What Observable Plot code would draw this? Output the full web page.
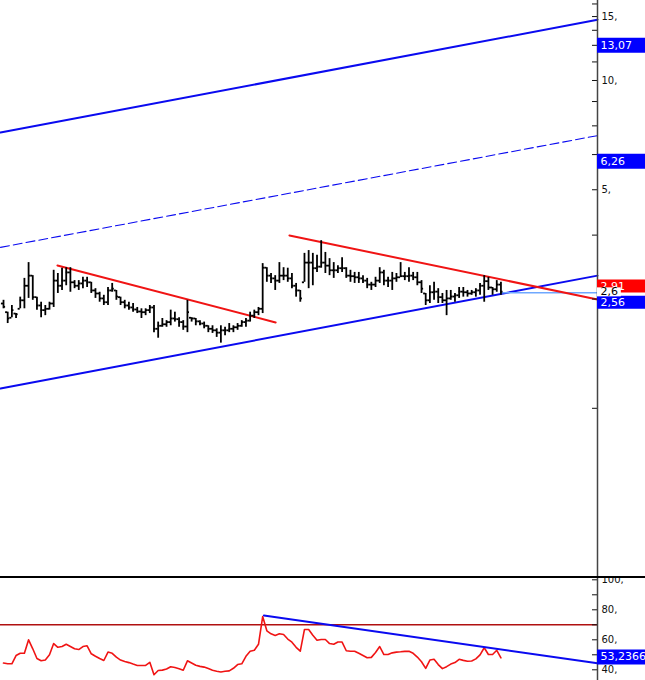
<!DOCTYPE html>
<html>
<head>
<meta charset="utf-8">
<script src="https://cdn.jsdelivr.net/npm/d3@7"></script>
<script src="https://cdn.jsdelivr.net/npm/@observablehq/plot@0.6"></script>
<style>
  body { margin: 0; background: #fff; overflow: hidden; }
  #price { height: 576px; overflow: hidden; }
  #rsi { border-top: 2px solid #000; height: 102px; overflow: hidden; }
  svg { display: block; }
</style>
</head>
<body>
<div id="price"></div>
<div id="rsi"></div>
<script>
// weekly bars, one per index
const high = [
  2.48,2.30,2.40,2.28,2.53,2.85,3.15,2.90,2.53,2.45,
  2.40,2.45,3.00,2.94,3.04,3.05,3.05,2.81,2.81,2.87,
  2.87,2.78,2.67,2.61,2.56,2.69,2.76,2.64,2.53,2.48,
  2.45,2.43,2.37,2.35,2.35,2.40,2.40,2.16,2.21,2.18,
  2.33,2.30,2.22,2.18,2.48,2.22,2.21,2.18,2.16,2.11,
  2.11,2.07,2.11,2.09,2.14,2.11,2.14,2.18,2.21,2.30,
  2.33,2.37,3.13,3.05,2.94,2.90,3.15,3.05,3.04,2.94,
  2.76,2.64,3.34,3.40,3.34,3.30,3.62,3.36,3.23,3.15,
  3.09,3.25,3.05,3.00,2.96,2.96,2.90,2.85,2.78,2.87,
  3.05,3.00,2.87,2.96,2.94,3.15,2.96,3.05,2.96,2.96,
  2.81,2.59,2.72,2.78,2.67,2.59,2.64,2.64,2.59,2.69,
  2.69,2.64,2.64,2.67,2.76,2.90,2.87,2.69,2.81,2.78
];
const low = [
  2.35,2.14,2.22,2.21,2.35,2.35,2.51,2.48,2.33,2.22,
  2.25,2.33,2.37,2.59,2.64,2.72,2.61,2.67,2.64,2.67,
  2.69,2.59,2.51,2.45,2.40,2.40,2.61,2.48,2.40,2.35,
  2.33,2.30,2.28,2.21,2.25,2.28,2.02,1.95,2.09,2.09,
  2.11,2.16,2.09,2.05,2.02,2.16,2.11,2.11,2.07,2.02,
  2.01,1.96,1.89,1.98,2.02,2.02,2.05,2.09,2.09,2.16,
  2.21,2.25,2.28,2.78,2.76,2.64,2.76,2.81,2.78,2.67,
  2.53,2.45,2.78,2.67,2.72,2.96,3.04,2.94,2.90,2.85,
  2.94,2.96,2.85,2.78,2.76,2.76,2.76,2.67,2.64,2.69,
  2.76,2.72,2.69,2.64,2.78,2.87,2.81,2.78,2.81,2.72,
  2.59,2.40,2.43,2.48,2.43,2.43,2.25,2.48,2.45,2.51,
  2.53,2.53,2.56,2.53,2.56,2.45,2.64,2.56,2.61,2.56
];
const open = [
  2.43,2.30,2.22,2.28,2.35,2.48,2.72,2.90,2.53,2.40,
  2.33,2.35,2.43,2.81,2.72,2.81,2.96,2.78,2.72,2.76,
  2.81,2.78,2.64,2.59,2.51,2.45,2.64,2.64,2.53,2.45,
  2.40,2.37,2.34,2.31,2.30,2.33,2.37,2.07,2.11,2.13,
  2.16,2.21,2.20,2.16,2.10,2.22,2.21,2.17,2.14,2.11,
  2.07,2.05,2.02,2.05,2.05,2.07,2.09,2.11,2.16,2.18,
  2.25,2.30,2.35,3.05,2.90,2.85,2.81,2.90,2.90,2.85,
  2.72,2.64,2.78,3.15,3.15,3.04,3.07,3.15,3.09,3.00,
  3.00,3.04,3.04,2.90,2.89,2.87,2.85,2.81,2.74,2.74,
  2.81,2.96,2.81,2.81,2.85,2.87,2.89,2.89,2.90,2.87,
  2.78,2.59,2.48,2.61,2.62,2.53,2.48,2.51,2.54,2.56,
  2.62,2.61,2.59,2.61,2.64,2.72,2.80,2.69,2.66,2.74
];
const close = [
  2.38,2.21,2.33,2.27,2.48,2.72,2.90,2.53,2.40,2.33,
  2.35,2.43,2.81,2.72,2.81,2.96,2.78,2.72,2.76,2.81,
  2.78,2.64,2.59,2.51,2.45,2.64,2.67,2.54,2.45,2.40,
  2.37,2.34,2.31,2.30,2.33,2.37,2.07,2.11,2.13,2.16,
  2.21,2.20,2.16,2.10,2.30,2.21,2.17,2.14,2.11,2.07,
  2.05,2.02,2.05,2.05,2.07,2.09,2.11,2.16,2.18,2.25,
  2.30,2.35,3.05,2.90,2.85,2.81,2.90,2.90,2.85,2.72,
  2.64,2.51,3.15,3.15,3.04,3.07,3.15,3.09,3.00,3.00,
  3.04,3.04,2.90,2.89,2.87,2.85,2.81,2.74,2.74,2.81,
  2.96,2.81,2.81,2.85,2.87,2.89,2.89,2.90,2.87,2.78,
  2.67,2.48,2.61,2.62,2.53,2.48,2.51,2.54,2.56,2.62,
  2.61,2.59,2.61,2.64,2.72,2.80,2.69,2.66,2.74,2.62
];
const rsi = [
  44.5,44,44,49.5,51,51,60,54,47.5,46,
  46.5,50,57.5,55,55.5,57,55.5,54,53.5,55.5,
  56,50.7,49,47.5,46.2,51.8,51,48.4,46.5,45.5,
  44.8,43.8,42.9,42.9,42.9,45,36.7,39.5,39.8,40.5,
  42,41.5,40.7,39.7,46,44.5,43,42.3,41.8,40.8,
  39.7,39,38.5,39,39.3,41,43.5,44,49,52.4,
  53,57,75.5,66,64,62.9,64,63.5,60.5,58.4,
  55,52.4,66.9,66.9,63,59.7,60.2,60.2,57.5,57,
  58.5,58.5,52.7,52.4,52.4,51,49.5,48,48.3,51.5,
  55.5,50.2,50.2,51.3,51.8,52,52.3,52.4,51,48.5,
  45.4,41,46.5,47,43.5,40.8,42.1,43.8,44.8,47,
  46.3,45.7,45.9,47.3,50,54.7,50.2,50.2,53,48
];

// drawn lines: [bar index, value]
const channelTop = [[-0.72, 7.19], [142.1, 14.7]];
const channelMid = [[-0.72, 3.47], [142.1, 7.05]];
const channelLow = [[-0.72, 1.417], [142.1, 2.90]];
const wedgeOne = [[12.9, 3.093], [65.1, 2.155]];
const wedgeTwo = [[68.4, 3.741], [142.1, 2.493]];
const flatLevel = [[119, 2.6], [142.1, 2.6]];
const rsiLevel = [70];
const rsiTrend = [[62.3, 76.2], [142.1, 44.3]];

const priceTicks = [1.25, 2.5, 3.75, 5, 6.25, 7.5, 8.75, 10, 11.25, 12.5, 13.75, 15, 16.25];
const priceLabels = [5, 7.5, 10, 15];
const rsiTicks = [40, 50, 60, 70, 80, 90, 100];
const rsiLabels = [40, 60, 80, 100];

const tagValues = [13.07, 6.26, 2.91, 2.56, 2.6];
const rsiTagValues = [53.2366];

const xDomain = [-0.72, 142.1];
const BLUE = "#0a0af0", RED = "#f01414";
const font = "DejaVu Sans, Verdana, sans-serif";
const fmt = d => Number.isInteger(d) ? `${d},` : String(d).replace(".", ",");

const bars = high.map((h, i) => ({i, high: h, low: low[i], open: open[i], close: close[i]}));
const rsiData = rsi.map((v, i) => ({i, v}));
const pt = {x: d => d[0], y: d => d[1]};

function tag(value, {fill, ink, w, h = 15, dy = 7}) {
  return [
    Plot.ruleY([value], {x1: xDomain[1], x2: xDomain[1] + w, stroke: fill, strokeWidth: h, dy}),
    Plot.text([value], {y: d => d, x: xDomain[1], dx: 3, dy, text: d => String(d).replace(".", ","),
      textAnchor: "start", fill: ink, fontSize: 11, fontFamily: font})
  ];
}

function axis(ticks, labels) {
  return [
    Plot.axisY({anchor: "right", ticks, tickSize: 6, insetRight: 6, tickPadding: 4, label: null,
      tickFormat: d => labels.includes(d) ? fmt(d) : "", fontSize: 10, fontFamily: font, color: "#111"}),
    Plot.ruleX([xDomain[1]], {stroke: "#444", strokeWidth: 1.5})
  ];
}

document.querySelector("#price").append(
  Plot.plot({
    width: 645, height: 576,
    marginLeft: 0, marginRight: 48, marginTop: 0, marginBottom: 0,
    style: {fontFamily: font, background: "#fff", overflow: "visible"},
    x: {domain: xDomain, axis: null},
    y: {type: "log", domain: [0.4301, 16.61], label: null},
    marks: [
      Plot.line(channelTop, {...pt, stroke: BLUE, strokeWidth: 2}),
      Plot.line(channelMid, {...pt, stroke: BLUE, strokeWidth: 1.1, strokeDasharray: "9,4"}),
      Plot.line(channelLow, {...pt, stroke: BLUE, strokeWidth: 2}),
      Plot.line(flatLevel, {...pt, stroke: "#6fa8ff", strokeWidth: 1.5}),
      Plot.line(wedgeOne, {...pt, stroke: RED, strokeWidth: 2}),
      Plot.line(wedgeTwo, {...pt, stroke: RED, strokeWidth: 2}),
      Plot.ruleX(bars, {x: "i", y1: "low", y2: "high", stroke: "#000", strokeWidth: 1.8}),
      Plot.ruleY(bars, {y: "open", x1: d => d.i - 0.5, x2: "i", stroke: "#000", strokeWidth: 1.8}),
      Plot.ruleY(bars, {y: "close", x1: "i", x2: d => d.i + 0.5, stroke: "#000", strokeWidth: 1.8}),
      ...axis(priceTicks, priceLabels),
      ...tag(tagValues[0], {fill: "#0000ff", ink: "#fff", w: 11.5}),
      ...tag(tagValues[1], {fill: "#0000ff", ink: "#fff", w: 11.5}),
      ...tag(tagValues[2], {fill: "#ff0000", ink: "#fff", w: 11.5, h: 13, dy: 11}),
      ...tag(tagValues[3], {fill: "#0000ff", ink: "#fff", w: 11.5, h: 13, dy: 7}),
      ...tag(tagValues[4], {fill: "#fff", ink: "#000", w: 5.7, h: 9, dy: -1})
    ]
  })
);

document.querySelector("#rsi").append(
  Plot.plot({
    width: 645, height: 102,
    marginLeft: 0, marginRight: 48, marginTop: 0, marginBottom: 0,
    style: {fontFamily: font, background: "#fff", overflow: "visible"},
    x: {domain: xDomain, axis: null},
    y: {domain: [32.87, 100.87], label: null},
    marks: [
      Plot.ruleY(rsiLevel, {stroke: "#b01010", strokeWidth: 1.5}),
      Plot.line(rsiData, {x: "i", y: "v", stroke: RED, strokeWidth: 1.6}),
      Plot.line(rsiTrend, {...pt, stroke: BLUE, strokeWidth: 2}),
      ...axis(rsiTicks, rsiLabels),
      ...tag(rsiTagValues[0], {fill: "#0000ff", ink: "#fff", w: 11.5, dy: 7})
    ]
  })
);
</script>
</body>
</html>
